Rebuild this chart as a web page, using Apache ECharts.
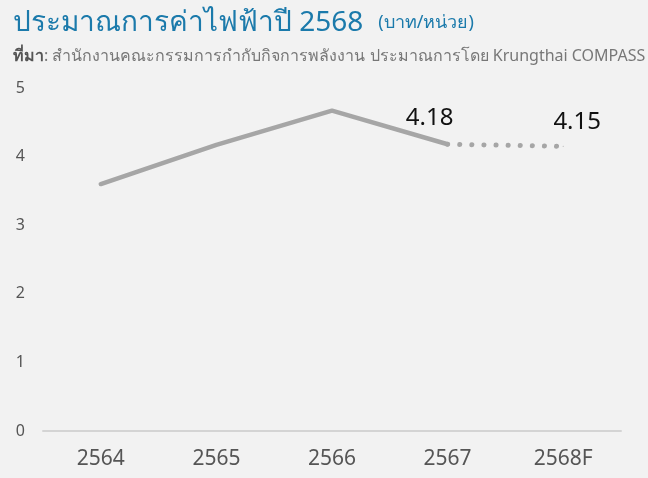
<!DOCTYPE html>
<html><head><meta charset="utf-8">
<script src="https://cdn.jsdelivr.net/npm/echarts@6/dist/echarts.min.js"></script>
<style>html,body{margin:0;padding:0;background:#f2f2f2}#c{width:648px;height:478px}</style>
</head><body><div id="c"></div>
<script>
const categories = ['2564', '2565', '2566', '2567', '2568F'];
const actualValues = [3.60, 4.17, 4.67, 4.18, null];
const forecastValues = [null, null, null, 4.18, 4.15];
const valueLabels = [null, null, null, '4.18', '4.15'];
const yTicks = [0, 1, 2, 3, 4, 5];

const chart = echarts.init(document.getElementById('c'));
const font = "'Noto Sans', 'Open Sans', sans-serif";
const labelOffsets = { 3: [-18, -9], 4: [14, -7] };
const forecastData = forecastValues.map((v, i) => {
  if (v === null) return null;
  const item = { value: v };
  if (valueLabels[i]) {
    item.label = {
      show: true, formatter: valueLabels[i], position: 'top',
      offset: labelOffsets[i] || [0, 0],
      color: '#111', fontSize: 24, fontFamily: font, fontWeight: 'normal'
    };
  }
  return item;
});

chart.setOption({
  backgroundColor: '#f2f2f2',
  animation: false,
  title: [{
    text: '{a|ประมาณการค่าไฟฟ้าปี 2568}   {b|(บาท/หน่วย)}',
    left: 8, top: 4,
    textStyle: { fontWeight: 'normal', rich: {
      a: { fontSize: 28, color: '#1b7aab', fontFamily: font, fontWeight: 'normal' },
      b: { fontSize: 18, color: '#1b7aab', fontFamily: font, fontWeight: 'normal' }
    }}
  }, {
    text: '{a|ที่มา}{c|: สำนักงานคณะกรรมการกำกับกิจการพลังงาน ประมาณการโดย Krungthai COMPASS}',
    left: 8, top: 43,
    textStyle: { fontWeight: 'normal', rich: {
      a: { fontSize: 16, color: '#555', fontWeight: 'bold', fontFamily: font },
      c: { fontSize: 16, color: '#777', fontFamily: font, fontWeight: 'normal' }
    }}
  }],
  grid: { left: 43, right: 27, top: 88, bottom: 47 },
  xAxis: {
    type: 'category', data: categories, boundaryGap: true,
    axisLine: { show: true, lineStyle: { color: '#d4d4d4', width: 2 } },
    axisTick: { show: false },
    axisLabel: { color: '#555', fontSize: 21, fontFamily: font, margin: 18 }
  },
  yAxis: {
    type: 'value', min: yTicks[0], max: yTicks[yTicks.length - 1], interval: 1,
    splitLine: { show: false },
    axisLine: { show: false }, axisTick: { show: false },
    axisLabel: { color: '#555', fontSize: 16, fontFamily: font, margin: 18, align: 'right' }
  },
  series: [{
    type: 'line', data: actualValues, symbol: 'none',
    lineStyle: { color: '#a6a6a6', width: 4.5, cap: 'round', join: 'round' }
  }, {
    type: 'line', data: forecastData, showSymbol: true, symbol: 'circle', symbolSize: 1,
    itemStyle: { color: '#a6a6a6' },
    lineStyle: { color: '#a6a6a6', width: 5, type: [0.1, 12], cap: 'round' }
  }]
});
</script></body></html>
